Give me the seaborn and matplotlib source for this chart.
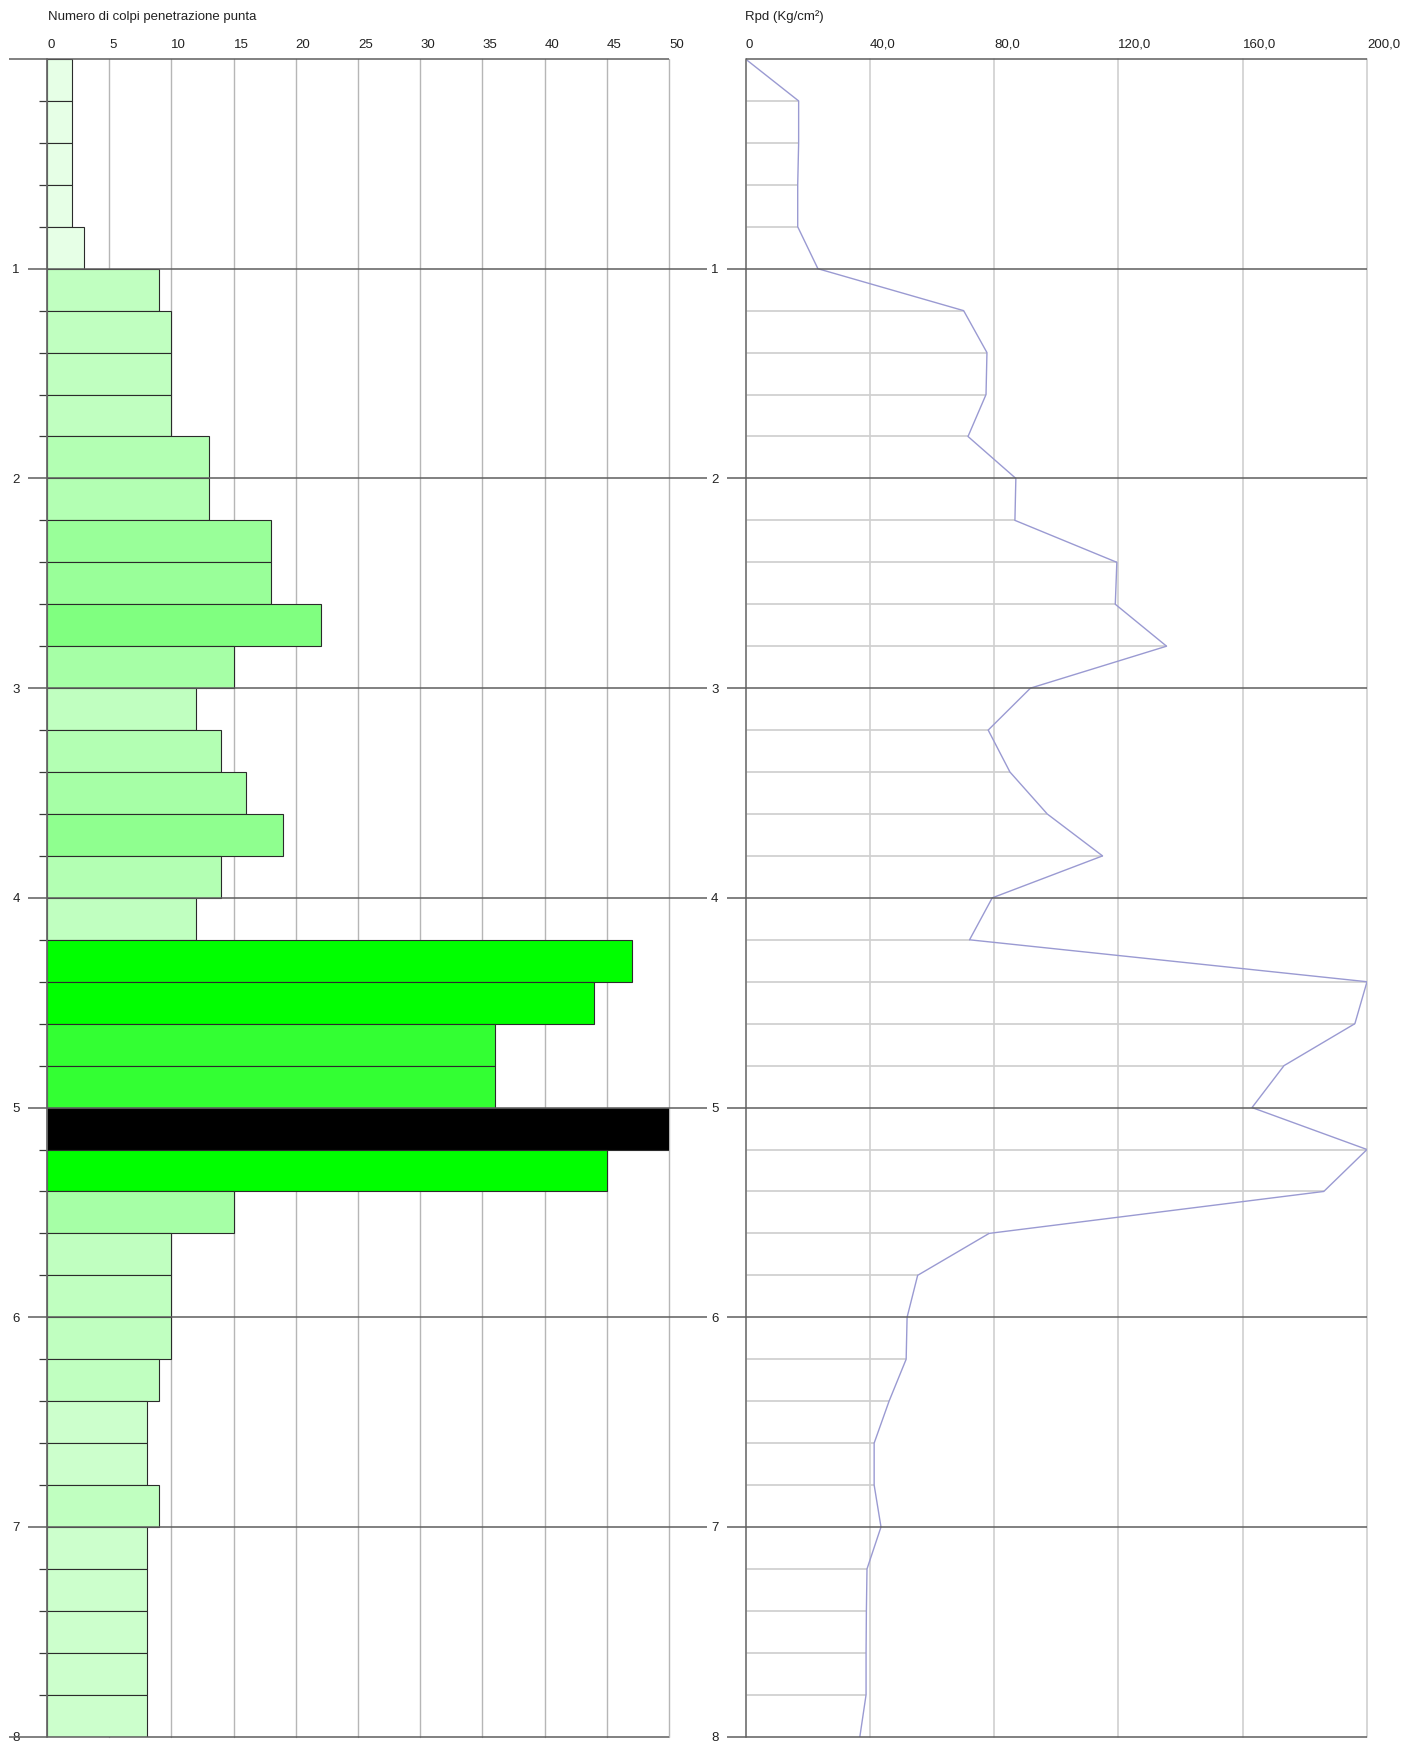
import matplotlib
matplotlib.use("Agg")
import matplotlib.pyplot as plt
import seaborn as sns
import pandas as pd

# ---------------- data ----------------
# top of each 0.20 m penetration step (m)
step_tops = [0.0, 0.2, 0.4, 0.6, 0.8, 1.0, 1.2, 1.4, 1.6, 1.8,
             2.0, 2.2, 2.4, 2.6, 2.8, 3.0, 3.2, 3.4, 3.6, 3.8,
             4.0, 4.2, 4.4, 4.6, 4.8, 5.0, 5.2, 5.4, 5.6, 5.8,
             6.0, 6.2, 6.4, 6.6, 6.8, 7.0, 7.2, 7.4, 7.6, 7.8]
# number of blows per step
blows = [2, 2, 2, 2, 3, 9, 10, 10, 10, 13,
         13, 18, 18, 22, 15, 12, 14, 16, 19, 14,
         12, 47, 44, 36, 36, 50, 45, 15, 10, 10,
         10, 9, 8, 8, 9, 8, 8, 8, 8, 8]
# Rpd profile (Kg/cm2) at each step boundary
rpd_depths = [0.0, 0.2, 0.4, 0.6, 0.8, 1.0, 1.2, 1.4, 1.6, 1.8,
              2.0, 2.2, 2.4, 2.6, 2.8, 3.0, 3.2, 3.4, 3.6, 3.8,
              4.0, 4.2, 4.4, 4.6, 4.8, 5.0, 5.2, 5.4, 5.6, 5.8,
              6.0, 6.2, 6.4, 6.6, 6.8, 7.0, 7.2, 7.4, 7.6, 7.8, 8.0]
rpd_values = [0.0, 17.1, 17.1, 16.8, 16.8, 23.3, 70.2, 77.7, 77.4, 71.6,
              87.0, 86.7, 119.5, 119.0, 135.5, 91.7, 78.1, 85.1, 97.1, 114.9,
              79.4, 72.1, 200.0, 196.1, 173.3, 163.0, 200.0, 186.1, 78.4, 55.4,
              52.0, 51.7, 46.2, 41.4, 41.4, 43.6, 39.1, 38.9, 38.8, 38.8, 36.8]

blow_ticks = [0, 5, 10, 15, 20, 25, 30, 35, 40, 45, 50]
blow_tick_labels = ["0", "5", "10", "15", "20", "25", "30", "35", "40", "45", "50"]
rpd_ticks = [0, 40, 80, 120, 160, 200]
rpd_tick_labels = ["0", "40,0", "80,0", "120,0", "160,0", "200,0"]
depth_ticks = [1, 2, 3, 4, 5, 6, 7, 8]
depth_tick_labels = ["1", "2", "3", "4", "5", "6", "7", "8"]

title_left = "Numero di colpi penetrazione punta"
title_right = "Rpd (Kg/cm²)"


def fill_for(n):
    if n >= 50:
        return "#000000"
    if n >= 44:
        return "#00ff00"
    if n >= 30:
        return "#33ff33"
    if n >= 22:
        return "#80ff80"
    if n >= 19:
        return "#8fff8f"
    if n >= 17:
        return "#99ff99"
    if n >= 15:
        return "#a6ffa6"
    if n >= 13:
        return "#b3ffb3"
    if n >= 9:
        return "#c0ffc0"
    if n >= 4:
        return "#ccffcc"
    return "#e6ffe6"


# ---------------- style ----------------
sns.set_style("white")
plt.rcParams["font.family"] = ["Liberation Sans", "DejaVu Sans"]
FS = 9.5
plt.rcParams["font.size"] = FS

W, H = 1403, 1742
fig = plt.figure(figsize=(W / 100, H / 100), dpi=100)

y0_px, y8_px = 59.0, 1736.7
bottom = 1 - y8_px / H
height = (y8_px - y0_px) / H

axL = fig.add_axes([47 / W, bottom, 622 / W, height])
axR = fig.add_axes([745.5 / W, bottom, 621.5 / W, height])

TXT = "#222222"
DEPTH_LINE = "#5e5e5e"

# ---------------- left panel: blows ----------------
df = pd.DataFrame({"depth_mid": [t + 0.1 for t in step_tops], "blows": blows})
sns.barplot(data=df, x="blows", y="depth_mid", orient="y", native_scale=True,
            width=1.0, color="#c0ffc0", edgecolor="#2b2b2b", linewidth=0.8,
            ax=axL, zorder=3)
for patch, n in zip(axL.patches, blows):
    patch.set_facecolor(fill_for(n))

axL.set_xlim(0, 50)
axL.set_ylim(8, 0)
axL.set_xlabel("")
axL.set_ylabel("")
for s in axL.spines.values():
    s.set_visible(False)

for v in blow_ticks[1:]:
    axL.axvline(v, color="#b6b6b6", lw=1.0, zorder=1, clip_on=False)
axL.axvline(0, color="#6a6a6a", lw=1.3, zorder=4, clip_on=False)

axL.xaxis.tick_top()
axL.set_xticks(blow_ticks)
axL.set_xticklabels(blow_tick_labels)
axL.tick_params(axis="x", length=0, pad=6.0, labelsize=FS, labelcolor=TXT)
for t in axL.get_xticklabels():
    t.set_ha("left")

axL.set_yticks(depth_ticks)
axL.set_yticklabels(depth_tick_labels)
sub_depths = [d for d in step_tops if abs(d - round(d)) > 1e-6]
axL.set_yticks(sub_depths, minor=True)
axL.tick_params(axis="y", which="major", left=False, length=0, pad=19.5,
                labelsize=FS, labelcolor=TXT)
axL.tick_params(axis="y", which="minor", left=True, length=5.8, width=0.9,
                color="#3a3a3a")

ytrL = axL.get_yaxis_transform()
axL.hlines(depth_ticks[:-1], (28 - 47) / 622, (707 - 47) / 622, transform=ytrL,
           clip_on=False, color=DEPTH_LINE, lw=1.1, zorder=5)
axL.hlines([0, 8], (9 - 47) / 622, 1.0, transform=ytrL,
           clip_on=False, color=DEPTH_LINE, lw=1.1, zorder=5)

# ---------------- right panel: Rpd ----------------
sub_idx = [i for i, d in enumerate(rpd_depths) if abs(d - round(d)) > 1e-6]
axR.hlines([rpd_depths[i] for i in sub_idx], 0, [rpd_values[i] for i in sub_idx],
           color="#cdcdcd", lw=1.2, zorder=1)
for v in rpd_ticks[1:]:
    axR.axvline(v, color="#d0d0d0", lw=1.2, zorder=1, clip_on=False)
axR.axvline(0, color="#7a7a7a", lw=1.3, zorder=4, clip_on=False)

sns.lineplot(x=rpd_values, y=rpd_depths, orient="y", estimator=None, sort=True,
             color="#9a9ad2", lw=1.0, ax=axR, zorder=3)

axR.set_xlim(0, 200)
axR.set_ylim(8, 0)
axR.set_xlabel("")
axR.set_ylabel("")
for s in axR.spines.values():
    s.set_visible(False)

axR.xaxis.tick_top()
axR.set_xticks(rpd_ticks)
axR.set_xticklabels(rpd_tick_labels)
axR.tick_params(axis="x", length=0, pad=6.0, labelsize=FS, labelcolor=TXT)
for t in axR.get_xticklabels():
    t.set_ha("left")

axR.set_yticks(depth_ticks)
axR.set_yticklabels(depth_tick_labels)
axR.tick_params(axis="y", which="major", length=0, pad=19.5, labelsize=FS, labelcolor=TXT)

ytrR = axR.get_yaxis_transform()
axR.hlines(depth_ticks, (727 - 745.5) / 621.5, 1.0, transform=ytrR,
           clip_on=False, color=DEPTH_LINE, lw=1.1, zorder=5)
axR.hlines([0], 0, 1.0, transform=ytrR, clip_on=False, color=DEPTH_LINE, lw=1.1, zorder=5)

# ---------------- titles ----------------
fig.text(48 / W, 1 - 17 / H, title_left, ha="left", va="center", fontsize=FS, color=TXT)
fig.text(745 / W, 1 - 17 / H, title_right, ha="left", va="center", fontsize=FS, color=TXT)

fig.savefig("out.png", dpi=100)
